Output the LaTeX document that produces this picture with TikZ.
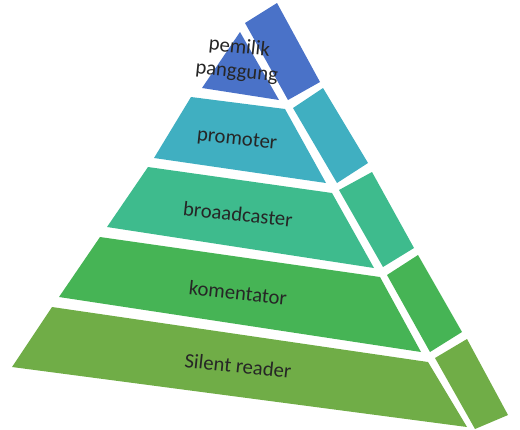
\documentclass[tikz,border=0pt]{standalone}
\usepackage{fontspec}
\setmainfont{Carlito}
\usepackage{xcolor}
\usepackage{tikz}
\definecolor{topblue}{HTML}{4A72C8}
\definecolor{promteal}{HTML}{40AFC1}
\definecolor{broadsea}{HTML}{3EBB8D}
\definecolor{komgreen}{HTML}{46B455}
\definecolor{silolive}{HTML}{70AD47}
\tikzset{lbl/.style={text=black!85,rotate=-6,align=center,inner sep=0pt,font=\fontsize{15.5}{18.5}\selectfont}}

\begin{document}
\begin{tikzpicture}[x=0.75pt,y=-0.75pt]
\useasboundingbox(0,0)rectangle(520,429);
% front faces
\fill[topblue](240,32)--(202,88)--(279,100)--cycle;
\fill[promteal](191,97)--(285,109)--(326,183)--(154,158)--cycle;
\fill[broadsea](148,167)--(332,193)--(374,268)--(107,227)--cycle;
\fill[komgreen](100,237)--(380,277)--(421,352)--(59,297)--cycle;
\fill[silolive](52,307)--(428,362)--(467,427)--(12,367)--cycle;
% side faces
\fill[topblue](245,23)--(277,3)--(320,82)--(288,100)--cycle;
\fill[promteal](293,108)--(323,88)--(368,163)--(337,183)--cycle;
\fill[broadsea](339,190)--(372,172)--(414,248)--(383,267)--cycle;
\fill[komgreen](387,275)--(418,255)--(462,332)--(430,352)--cycle;
\fill[silolive](435,358)--(467,339)--(508,415)--(475,429)--cycle;
% labels
\node[lbl](pemilik)at(238,60){pemilik\\panggung};
\node[lbl](promoter)at(237,140){promoter};
\node[lbl](broad)at(238,214){broaadcaster};
\node[lbl](koment)at(238,293){komentator};
\node[lbl](silent)at(238,366){Silent reader};
\end{tikzpicture}
\end{document}
